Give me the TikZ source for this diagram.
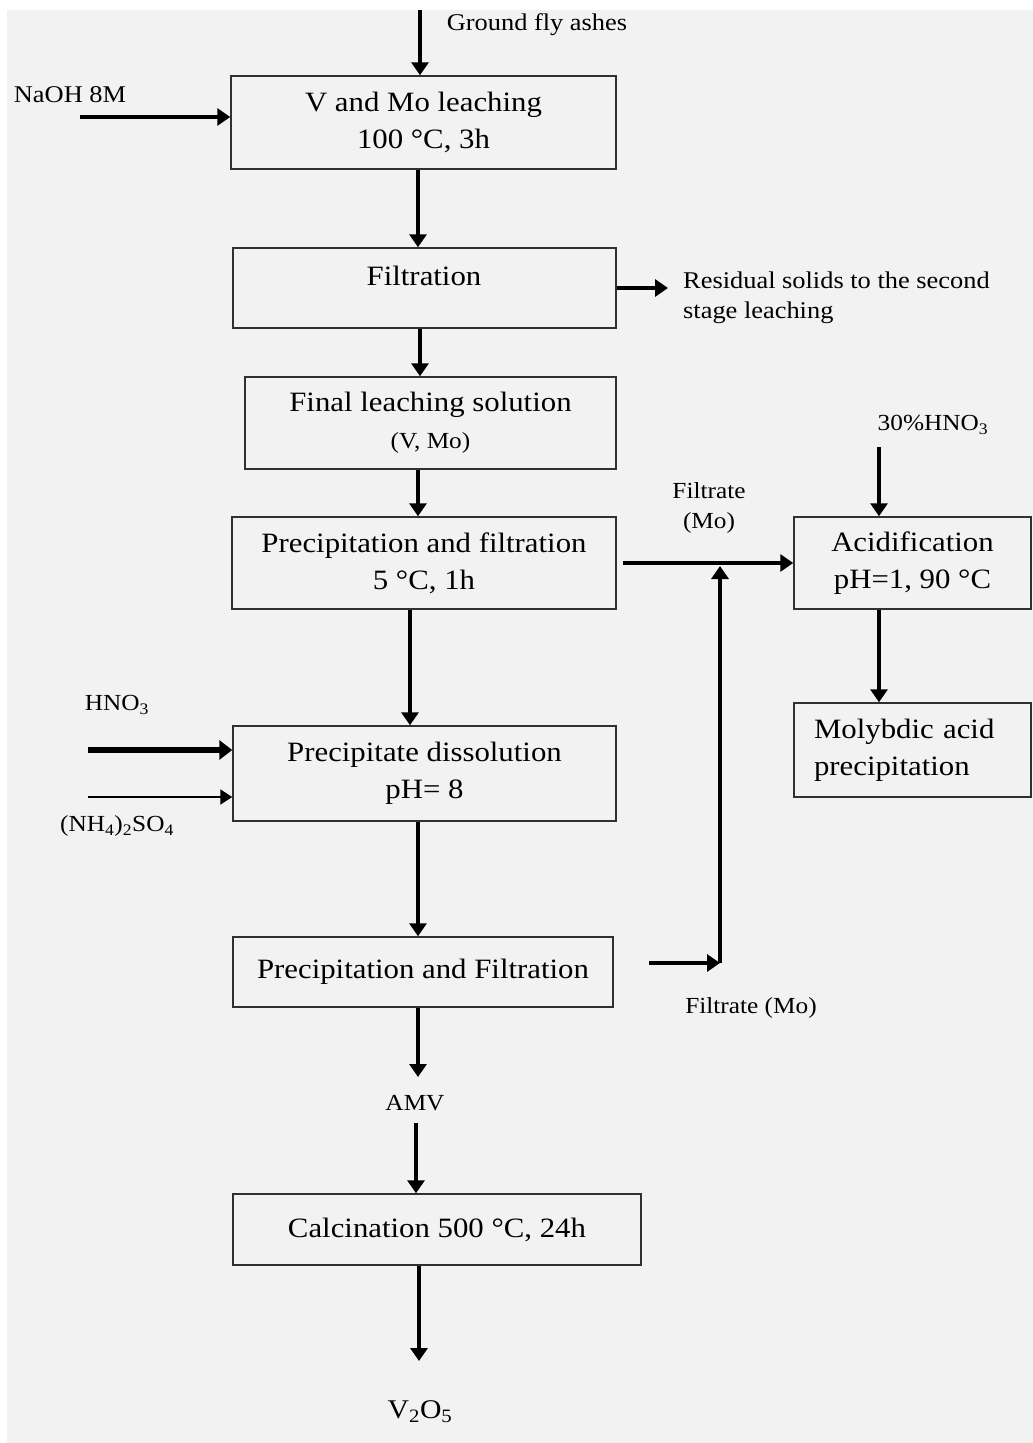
\documentclass[tikz,border=0pt]{standalone}
\usepackage{fontspec}
\setmainfont{Liberation Serif}[FakeStretch=1.1]
\usetikzlibrary{arrows.meta,calc}
\newcommand\fsbox{\fontsize{28}{37}\selectfont}
\newcommand\fslbl{\fontsize{24}{30}\selectfont}
\newcommand\fssmall{\fontsize{23}{30}\selectfont}
\newcommand\subtxt[1]{\textsubscript{#1}}
\definecolor{bggray}{HTML}{F2F2F2}
\definecolor{boxline}{HTML}{303030}
\begin{document}
\begin{tikzpicture}[x=1pt,y=-1pt,
  proc/.style={draw=boxline,line width=1.5pt,inner sep=0pt,align=center,font=\fsbox},
  lbl/.style={inner sep=0pt,align=center,font=\fslbl},
  arr/.style={line width=4pt,-{Triangle[length=13pt,width=17pt]}},
  thinarr/.style={line width=2pt,-{Triangle[length=12pt,width=15pt]}},
  fatarr/.style={line width=6pt,-{Triangle[length=13pt,width=19pt]}}]
\useasboundingbox (0,0) rectangle (1033,1443);
\fill[white] (0,0) rectangle (1033,1443);
\fill[bggray] (7,10) rectangle (1033,1443);

% boxes
\node[proc,minimum width=385pt,minimum height=93pt] (b1) at (423.5,122.5) {V and Mo leaching\\100 °C, 3h};
\node[proc,minimum width=383pt,minimum height=80pt] (b2) at (424.5,288) {};
\node[inner sep=0pt,font=\fsbox] (b2t) at (424,276) {Filtration};
\node[proc,minimum width=371pt,minimum height=92pt] (b3) at (430.5,423) {Final leaching solution\\{\fssmall (V, Mo)}};
\node[proc,minimum width=384pt,minimum height=92pt] (b4) at (424,563) {Precipitation and filtration\\5 °C, 1h};
\node[proc,minimum width=383pt,minimum height=95pt] (b5) at (424.5,773.5) {Precipitate dissolution\\pH= 8};
\node[proc,minimum width=380pt,minimum height=70pt] (b6) at (423,972) {Precipitation and Filtration};
\node[proc,minimum width=408pt,minimum height=71pt] (b7) at (437,1229.5) {Calcination 500 °C, 24h};
\node[proc,minimum width=237pt,minimum height=92pt] (acid) at (912.5,563) {Acidification\\pH=1, 90 °C};
\node[proc,minimum width=237pt,minimum height=94pt,text width=197pt,align=left] (moly) at (912.5,750) {Molybdic acid\\precipitation};

% labels
\node[lbl] (fly) at (537,25) {Ground fly ashes};
\node[lbl] (naoh) at (70,95) {NaOH 8M};
\node[lbl,align=left,anchor=west] (resid) at (683,298) {Residual solids to the second\\stage leaching};
\node[lbl,font=\fssmall,align=center] (filt1) at (709,508) {Filtrate\\(Mo)};
\node[lbl,font=\fssmall] (filt2) at (751,1008) {Filtrate (Mo)};
\node[lbl,font=\fssmall] (hno30) at (933,425) {30\%HNO\subtxt{3}};
\node[lbl,font=\fssmall] (hno3) at (117,705) {HNO\subtxt{3}};
\node[lbl,font=\fssmall] (nh4) at (117,826) {(NH\subtxt{4})\subtxt{2}SO\subtxt{4}};
\node[lbl,font=\fssmall] (amv) at (415,1103) {AMV};
\node[lbl,font=\fontsize{27}{30}\selectfont] (v2o5) at (420,1412) {V\subtxt{2}O\subtxt{5}};

% coordinates
\coordinate (flytop) at (420,10);
\coordinate (naohs) at (80,117);
\coordinate (residend) at (668,288);
\coordinate (junc) at (720,563);
\coordinate (b6r) at (648,963);
\coordinate (hno30s) at (879,447);
\coordinate (hno3s) at (88,750);
\coordinate (nh4s) at (88,797);

% connectors
\draw[arr] (flytop) -- (flytop |- b1.north);
\draw[arr] (naohs) -- (naohs -| b1.west);
\draw[arr] (418,0 |- b1.south) -- (418,0 |- b2.north);
\draw[arr] (b2.east) -- (residend);
\draw[arr] (420,0 |- b2.south) -- (420,0 |- b3.north);
\draw[arr] (418,0 |- b3.south) -- (418,0 |- b4.north);
\draw[arr] ($(b4.east)+(6,0)$) -- (acid.west);
\draw[arr] (b6r -| b6.east) ++(35,0) -- (b6r -| junc);
\draw[arr] (b6r -| junc) -- ($(junc)+(0,3)$);
\draw[arr] (hno30s) -- (hno30s |- acid.north);
\draw[arr] (hno30s |- acid.south) -- (hno30s |- moly.north);
\draw[arr] (410,0 |- b4.south) -- (410,0 |- b5.north);
\draw[fatarr] (hno3s) -- (hno3s -| b5.west);
\draw[thinarr] (nh4s) -- (nh4s -| b5.west);
\draw[arr] (418,0 |- b5.south) -- (418,0 |- b6.north);
\draw[arr] (418,0 |- b6.south) -- (418,1077);
\draw[arr] (416,1123) -- (416,0 |- b7.north);
\draw[arr] (419,0 |- b7.south) -- (419,1361);
\end{tikzpicture}
\end{document}
